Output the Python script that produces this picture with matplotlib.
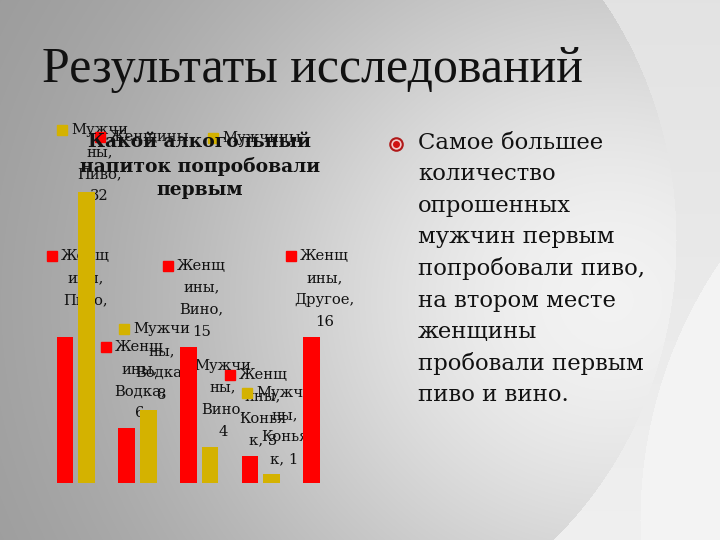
import numpy as np
import matplotlib
matplotlib.use("Agg")
import matplotlib.pyplot as plt
from matplotlib.patches import Rectangle

# ---------------- data ----------------
categories = ["Пиво", "Водка", "Вино", "Коньяк", "Другое"]
series_names = ["Женщины", "Мужчины"]
women = [16, 6, 15, 3, 16]
men = [32, 8, 4, 1, None]          # no bar for "Другое"
series_colors = ["#FF0000", "#D4B200"]

slide_title = "Результаты исследований"
chart_title_lines = ["Какой алкогольный", "напиток попробовали", "первым"]
bullet_lines = ["Самое большее", "количество", "опрошенных", "мужчин первым",
                "попробовали пиво,", "на втором месте", "женщины",
                "пробовали первым", "пиво и вино."]

# wrapping of the data labels as in the original slide
name_wrap = {"Женщины": ["Женщ", "ины,"], "Мужчины": ["Мужчи", "ны,"]}


def category_wrap(cat, v):
    if cat == "Коньяк":
        return ["Конья", f"к, {v}"]
    return [f"{cat},", f"{v}"]


W, H = 720, 540
fig = plt.figure(figsize=(7.2, 5.4), dpi=100)

# ---------------- background ----------------
Y, X = np.mgrid[0:H, 0:W].astype(float)
inside = (((X - 300) / 376) ** 2 + ((Y - 240) / 405) ** 2 <= 1) | (X < 300)
v_in = 0.58 + 0.37 * np.exp(-(((X - 610) / 450) ** 2 + ((Y - 300) / 420) ** 2))
v_out = 0.89 + 0.05 * (Y / H)
white2 = (X - 1100) ** 2 + (Y - 520) ** 2 <= 460 ** 2
v = np.where(inside, v_in, v_out)
v = np.where(white2 & ~inside, 0.955, v)
img = np.dstack([v, v, v])

bg = fig.add_axes([0, 0, 1, 1])
bg.imshow(img, extent=[0, W, H, 0], aspect="auto", zorder=0, interpolation="bilinear")
bg.set_xlim(0, W)
bg.set_ylim(H, 0)
bg.axis("off")

renderer = fig.canvas.get_renderer()


def fit(t, target_w):
    bb = t.get_window_extent(renderer)
    t.set_fontsize(t.get_fontsize() * target_w / bb.width)
    return t


def width_of(t):
    return t.get_window_extent(renderer).width


TXT = "#111111"

# ---------------- slide title ----------------
t = bg.text(42, 81.7, slide_title, fontsize=30, family="Liberation Serif",
            color=TXT, ha="left", va="baseline", zorder=5)
fit(t, 541)

# ---------------- bullet text ----------------
probe = bg.text(0, -100, "попробовали пиво,", fontsize=16, family="DejaVu Serif")
fit(probe, 227)
body_size = probe.get_fontsize()
probe.remove()
for k, line in enumerate(bullet_lines):
    bg.text(418, 143 + 31.5 * k, line, fontsize=body_size, family="DejaVu Serif",
            color=TXT, ha="left", va="center", zorder=5)
bg.plot([396], [144], marker="o", markersize=9, markerfacecolor="#f2c9c9",
        markeredgecolor="#b01818", markeredgewidth=1.5, zorder=6)
bg.plot([396], [144], marker="o", markersize=4, color="#d01010", zorder=7)

# ---------------- chart ----------------
BASE = 483
PPU = 9.1
ax = fig.add_axes([45.0 / W, (H - BASE) / H, 308.3 / W, 35 * PPU / H])
ax.set_xlim(-0.5, 4.5)
ax.set_ylim(0, 35)
ax.axis("off")
ax.patch.set_alpha(0)

xs = np.arange(len(categories))
bw = 0.272
offsets = [-0.176, 0.176]
values = [women, men]
for si in range(2):
    for i, val in enumerate(values[si]):
        if val is None:
            continue
        ax.bar(xs[i] + offsets[si], val, bw, color=series_colors[si], zorder=3)

# label font size
probe = bg.text(0, -100, "Мужчи", fontsize=12, family="DejaVu Serif")
fit(probe, 57)
lab_size = probe.get_fontsize()
probe.remove()

fig.canvas.draw()


def to_px(xd, yd):
    dx, dy = ax.transData.transform((xd, yd))
    return dx, H - dy


LINE_H = 22
for si, sname in enumerate(series_names):
    for i, val in enumerate(values[si]):
        if val is None:
            continue
        xb, yb = to_px(xs[i] + offsets[si], val)
        lines = name_wrap[sname] + category_wrap(categories[i], val)
        n = len(lines)
        first_y = max(yb - 15 - LINE_H * (n - 1), 130)
        cx = xb + 13
        tmp = bg.text(0, -100, lines[0], fontsize=lab_size, family="DejaVu Serif")
        w1 = width_of(tmp)
        tmp.remove()
        sq_left = cx - w1 / 2 - 14
        if sq_left < 47:
            cx += 47 - sq_left
            sq_left = 47
        bg.add_patch(Rectangle((sq_left, first_y - 5), 10, 10,
                               color=series_colors[si], zorder=6))
        for k, line in enumerate(lines):
            bg.text(cx, first_y + LINE_H * k, line, fontsize=lab_size,
                    family="DejaVu Serif", color=TXT, ha="center", va="center",
                    zorder=6)

# legend
leg_pos = [(95, 132), (208, 133)]
for si, sname in enumerate(series_names):
    lx, ly = leg_pos[si]
    bg.add_patch(Rectangle((lx, ly), 10, 10, color=series_colors[si], zorder=6))
    bg.text(lx + 14, ly + 5, sname, fontsize=lab_size, family="DejaVu Serif",
            color=TXT, ha="left", va="center", zorder=6)

# chart title (drawn on top of legend as in the original)
probe = bg.text(0, -100, chart_title_lines[1], fontsize=14, family="DejaVu Serif",
                weight="bold")
fit(probe, 240)
ct_size = probe.get_fontsize()
probe.remove()
for k, (line, yy) in enumerate(zip(chart_title_lines, [141.7, 166.7, 190])):
    bg.text(200, yy, line, fontsize=ct_size, family="DejaVu Serif", weight="bold",
            color=TXT, ha="center", va="center", zorder=7)

fig.savefig("out.png", dpi=100)
